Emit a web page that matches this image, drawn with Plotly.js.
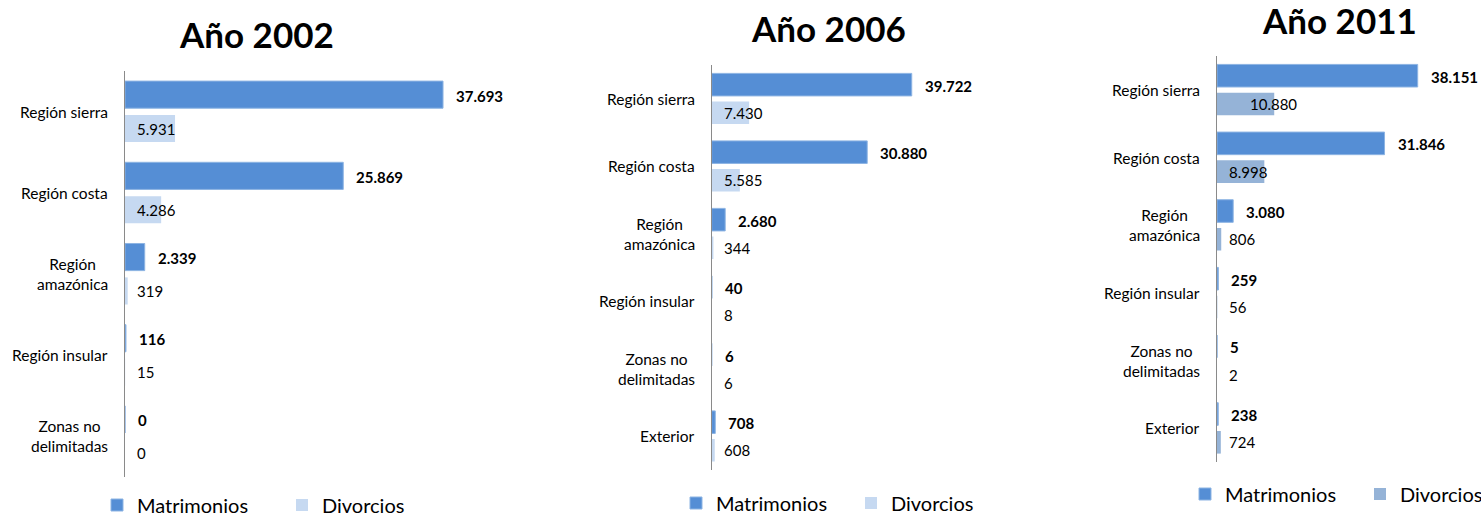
<!DOCTYPE html>
<html>
<head>
<meta charset="utf-8">
<script src="https://cdn.plot.ly/plotly-3.0.1.min.js"></script>
<style>
  html, body { margin: 0; padding: 0; background: #ffffff; overflow: hidden; }
  #chart { width: 1481px; height: 517px; }
</style>
</head>
<body>
<div id="chart"></div>
<script>
// ---------- DATA ----------
const categories2002 = ['Región sierra', 'Región costa', 'Región<br>amazónica', 'Región insular', 'Zonas no<br>delimitadas'];
const categories2006 = ['Región sierra', 'Región costa', 'Región<br>amazónica', 'Región insular', 'Zonas no<br>delimitadas', 'Exterior'];
const categories2011 = ['Región sierra', 'Región costa', 'Región<br>amazónica', 'Región insular', 'Zonas no<br>delimitadas', 'Exterior'];

const matrimonios2002 = [37693, 25869, 2339, 116, 0];
const divorcios2002   = [5931, 4286, 319, 15, 0];

const matrimonios2006 = [39722, 30880, 2680, 40, 6, 708];
const divorcios2006   = [7430, 5585, 344, 8, 6, 608];

const matrimonios2011 = [38151, 31846, 3080, 259, 5, 238];
const divorcios2011   = [10880, 8998, 806, 56, 2, 724];

const seriesNames = ['Matrimonios', 'Divorcios'];
const panelTitles = ['Año 2002', 'Año 2006', 'Año 2011'];

// ---------- LAYOUT / STYLE ----------
const W = 1481, H = 517;
const FONT = 'Lato, "Open Sans", sans-serif';
const colMat = '#558ED5';
const colDiv = ['#C6D9F1', '#C6D9F1', '#95B3D7'];
const BARGAP = 0.165, GROUPGAP = 0.2;

// panel geometry in pixels: axis left x, right x, top y, bottom y, x range max
const panels = [
  { cats: categories2002, mat: matrimonios2002, div: divorcios2002, left: 125,   right: 487.8,  top: 71, bottom: 477, xmax: 43000,
    title: { x: 256.5, y: 34 }, legend: { x: 97, y: 505, entry: 140 } },
  { cats: categories2006, mat: matrimonios2006, div: divorcios2006, left: 711.7, right: 963.5,  top: 65, bottom: 470, xmax: 50000,
    title: { x: 829, y: 28 }, legend: { x: 676, y: 503, entry: 130 } },
  { cats: categories2011, mat: matrimonios2011, div: divorcios2011, left: 1217,  right: 1469.5, top: 56, bottom: 462, xmax: 48000,
    title: { x: 1339, y: 20 }, legend: { x: 1185, y: 494, entry: 130 } }
];
// manual label nudges (px) for individual Divorcios labels, as in the original
const divLabelNudge = { 2: { 0: 21 } };

function fmt(v) { return String(v).replace(/\B(?=(\d{3})+(?!\d))/g, '.'); }

const traces = [];
const annotations = [];
const layout = {
  width: W, height: H,
  margin: { l: 0, r: 0, t: 0, b: 0, pad: 0, autoexpand: false },
  paper_bgcolor: '#ffffff', plot_bgcolor: 'rgba(0,0,0,0)',
  barmode: 'group', bargap: BARGAP, bargroupgap: GROUPGAP,
  hovermode: false,
  font: { family: FONT, color: '#000000' },
  separators: ',.',
  showlegend: true
};

panels.forEach((p, i) => {
  const sfx = i === 0 ? '' : String(i + 1);
  const xa = 'x' + sfx, ya = 'y' + sfx;
  const legendId = 'legend' + sfx;

  layout['xaxis' + sfx] = {
    domain: [p.left / W, p.right / W],
    range: [0, p.xmax], visible: false, fixedrange: true, anchor: ya
  };
  layout['yaxis' + sfx] = {
    domain: [1 - p.bottom / H, 1 - p.top / H],
    type: 'category', autorange: 'reversed', anchor: xa,
    showline: true, linecolor: '#8a8a8a', linewidth: 1.2,
    showticklabels: false, ticks: '', showgrid: false, zeroline: false, fixedrange: true
  };
  layout[legendId] = {
    orientation: 'h', x: p.legend.x / W, y: 1 - p.legend.y / H,
    xanchor: 'left', yanchor: 'middle',
    font: { family: FONT, size: 20, color: '#000000' },
    entrywidth: p.legend.entry, entrywidthmode: 'pixels',
    bgcolor: 'rgba(0,0,0,0)', borderwidth: 0, traceorder: 'normal'
  };

  traces.push({
    type: 'bar', orientation: 'h', name: seriesNames[0],
    x: p.mat, y: p.cats, xaxis: xa, yaxis: ya, legend: legendId,
    marker: { color: colMat, line: { color: '#8DB4E3', width: 1 } }
  });
  traces.push({
    type: 'bar', orientation: 'h', name: seriesNames[1],
    x: p.div, y: p.cats, xaxis: xa, yaxis: ya, legend: legendId,
    marker: { color: colDiv[i], line: { color: colDiv[i], width: 0 } }
  });

  // offsets of each bar from category centre, derived from the axis geometry
  const catPx = (p.bottom - p.top) / p.cats.length;
  const slot = (1 - BARGAP) * catPx / 2;
  const half = slot / 2;

  // category labels (right-aligned box, centred lines)
  p.cats.forEach((c) => {
    annotations.push({
      xref: xa + ' domain', yref: ya, x: 0, y: c, xanchor: 'right', yanchor: 'middle',
      xshift: -15, text: c, align: 'center', showarrow: false,
      font: { family: FONT, size: 15.5, color: '#000000' }
    });
  });
  // Matrimonios value labels: just outside the bar end, bold
  p.mat.forEach((v, k) => {
    annotations.push({
      xref: xa, yref: ya, x: v, y: p.cats[k], xanchor: 'left', yanchor: 'middle',
      xshift: 11, yshift: half - 1, text: '<b>' + fmt(v) + '</b>', showarrow: false,
      font: { family: FONT, size: 15, color: '#000000' }
    });
  });
  // Divorcios value labels: at the base of the bar
  p.div.forEach((v, k) => {
    const nudge = (divLabelNudge[i] && divLabelNudge[i][k]) || 0;
    annotations.push({
      xref: xa, yref: ya, x: 0, y: p.cats[k], xanchor: 'left', yanchor: 'middle',
      xshift: 10 + nudge, yshift: -half, text: fmt(v), showarrow: false,
      font: { family: FONT, size: 15, color: '#000000' }
    });
  });
  // panel title
  annotations.push({
    xref: 'paper', yref: 'paper', x: p.title.x / W, y: 1 - p.title.y / H,
    xanchor: 'center', yanchor: 'middle', text: '<b>' + panelTitles[i] + '</b>', showarrow: false,
    font: { family: FONT, size: 35, color: '#000000' }
  });
});

layout.annotations = annotations;

Plotly.newPlot('chart', traces, layout, { staticPlot: true, displayModeBar: false });
</script>
</body>
</html>
